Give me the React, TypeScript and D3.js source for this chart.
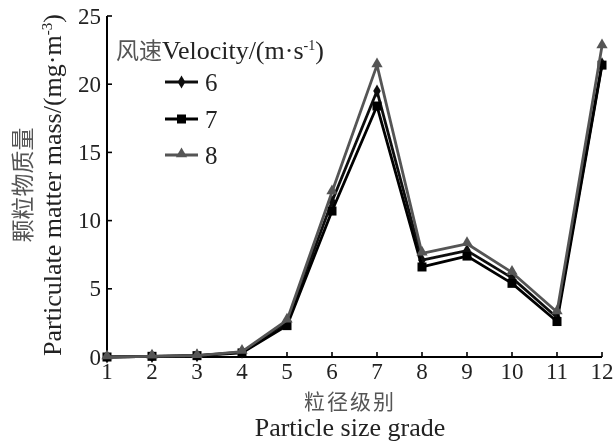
import React from "react";
import * as d3 from "d3";

// Particle size grades on the x axis
const grades = [1, 2, 3, 4, 5, 6, 7, 8, 9, 10, 11, 12];

// Particulate matter mass (mg·m⁻³) per grade, for each wind velocity (m·s⁻¹)
const mass6 = [0.0, 0.05, 0.1, 0.35, 2.5, 11.4, 19.5, 7.1, 7.8, 5.8, 2.9, 21.5];
const mass7 = [0.0, 0.05, 0.1, 0.3, 2.3, 10.7, 18.4, 6.6, 7.4, 5.4, 2.6, 21.4];
const mass8 = [0.0, 0.05, 0.1, 0.4, 2.7, 12.1, 21.4, 7.6, 8.3, 6.2, 3.3, 22.8];

const yTicks = [0, 5, 10, 15, 20, 25];
const legendLabels = ["6", "7", "8"];

const W = 615;
const H = 446;
const FONT = "'Liberation Serif', 'Times New Roman', serif";
const CJK = "'Noto Sans CJK SC', sans-serif";

type Series = { label: string; values: number[]; color: string; marker: "diamond" | "square" | "triangle" };

const series: Series[] = [
  { label: legendLabels[0], values: mass6, color: "#111", marker: "diamond" },
  { label: legendLabels[1], values: mass7, color: "#000", marker: "square" },
  { label: legendLabels[2], values: mass8, color: "#555", marker: "triangle" },
];

function Marker({ kind, x, y, color }: { kind: Series["marker"]; x: number; y: number; color: string }) {
  if (kind === "square") {
    return <rect x={x - 4.5} y={y - 4.5} width={9} height={9} fill={color} />;
  }
  if (kind === "diamond") {
    const s = d3.symbol(d3.symbolDiamond, 50)();
    return <path d={s || ""} transform={`translate(${x},${y})`} fill={color} />;
  }
  const t = d3.symbol(d3.symbolTriangle, 55)();
  return <path d={t || ""} transform={`translate(${x},${y - 1})`} fill={color} />;
}

export default function App() {
  const x = d3.scaleLinear().domain([1, 12]).range([107, 602]);
  const y = d3.scaleLinear().domain([0, 25]).range([357, 16]);

  const line = d3
    .line<number>()
    .x((_, i) => x(grades[i]))
    .y((d) => y(d));

  const legendYs = [82, 119, 155];

  return (
    <svg
      width={W}
      height={H}
      style={{ position: "absolute", left: 0, top: 0, background: "#fff" }}
    >
      <defs>
        <filter id="soft">
          <feGaussianBlur stdDeviation="0.4" />
        </filter>
      </defs>
      <g filter="url(#soft)">
        {/* axes */}
        <line x1={x(1)} x2={x(12)} y1={y(0)} y2={y(0)} stroke="#000" strokeWidth={2} />
        <line x1={x(1)} x2={x(1)} y1={y(0)} y2={y(25)} stroke="#000" strokeWidth={2} />

        {yTicks.map((t) => (
          <g key={t}>
            <line x1={x(1)} x2={x(1) + 5} y1={y(t)} y2={y(t)} stroke="#000" strokeWidth={1.6} />
            <text
              x={x(1) - 6}
              y={y(t)}
              textAnchor="end"
              dominantBaseline="central"
              fontFamily={FONT}
              fontSize={23}
              fill="#222"
            >
              {t}
            </text>
          </g>
        ))}

        {grades.map((g) => (
          <g key={g}>
            <line x1={x(g)} x2={x(g)} y1={y(0)} y2={y(0) - 5} stroke="#000" strokeWidth={1.6} />
            <text
              x={x(g)}
              y={y(0) + 22}
              textAnchor="middle"
              fontFamily={FONT}
              fontSize={23}
              fill="#222"
            >
              {g}
            </text>
          </g>
        ))}

        {/* axis titles */}
        <text x={350} y={409} textAnchor="middle" fontFamily={CJK} fontSize={21} fill="#555" letterSpacing={2}>
          粒径级别
        </text>
        <text x={350} y={436} textAnchor="middle" fontFamily={FONT} fontSize={26} fill="#222">
          Particle size grade
        </text>
        <text
          transform="translate(31,185) rotate(-90)"
          textAnchor="middle"
          fontFamily={CJK}
          fontSize={23}
          fill="#555"
        >
          颗粒物质量
        </text>
        <text
          transform="translate(61,185) rotate(-90)"
          textAnchor="middle"
          fontFamily={FONT}
          fontSize={26}
          fill="#222"
        >
          Particulate matter mass/(mg·m
          <tspan dy={-9} fontSize={15}>-3</tspan>
          <tspan dy={9}>)</tspan>
        </text>

        {/* series lines and markers */}
        {series.map((s) => (
          <g key={s.label}>
            <path d={line(s.values) || ""} fill="none" stroke={s.color} strokeWidth={2.8} strokeLinejoin="round" />
            {s.values.map((v, i) => (
              <Marker key={i} kind={s.marker} x={x(grades[i])} y={y(v)} color={s.color} />
            ))}
          </g>
        ))}

        {/* legend */}
        <text x={116} y={59} fontFamily={FONT} fontSize={26} fill="#222">
          <tspan fontFamily={CJK} fontSize={23} fill="#555">风速</tspan>
          Velocity/(m·s
          <tspan dy={-9} fontSize={14}>-1</tspan>
          <tspan dy={9}>)</tspan>
        </text>
        {series.map((s, i) => (
          <g key={s.label}>
            <line x1={165} x2={198} y1={legendYs[i]} y2={legendYs[i]} stroke={s.color} strokeWidth={2.8} />
            <Marker kind={s.marker} x={181.5} y={legendYs[i]} color={s.color} />
            <text
              x={205}
              y={legendYs[i]}
              dominantBaseline="central"
              fontFamily={FONT}
              fontSize={25}
              fill="#222"
            >
              {s.label}
            </text>
          </g>
        ))}
      </g>
    </svg>
  );
}
